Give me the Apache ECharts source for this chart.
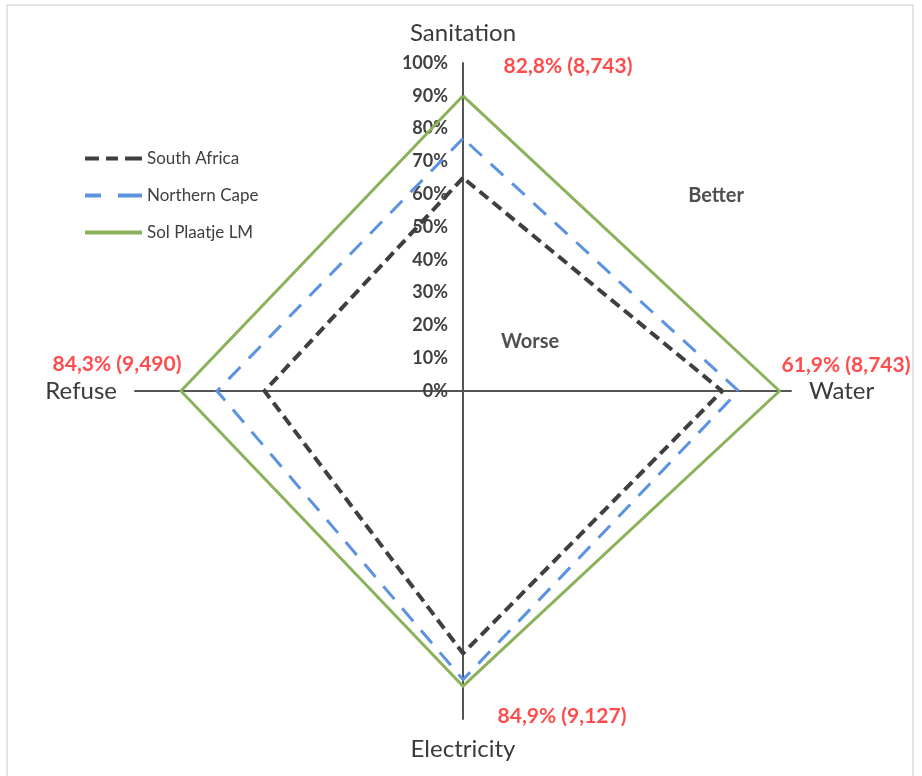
<!DOCTYPE html>
<html>
<head>
<meta charset="utf-8">
<script src="https://cdn.jsdelivr.net/npm/echarts@6/dist/echarts.min.js"></script>
<style>
  html, body { margin: 0; padding: 0; background: #fff; }
  #chart { width: 922px; height: 776px; }
</style>
</head>
<body>
<div id="chart"></div>
<script>
// Service access indicators (percent of households)
const indicatorNames = ['Sanitation', 'Refuse', 'Electricity', 'Water'];
const axisMax = 100;
const southAfrica = [65, 60.5, 80, 79];
const northernCape = [77, 75, 88, 84];
const solPlaatje = [90, 86, 90, 96.5];
const seriesNames = ['South Africa', 'Northern Cape', 'Sol Plaatje LM'];

// Local municipality annotations per service
const notes = {
  sanitation: '82,8% (8,743)',
  water: '61,9% (8,743)',
  electricity: '84,9% (9,127)',
  refuse: '84,3% (9,490)'
};

const FONT = 'Lato, "Liberation Sans", sans-serif';
const TEXT = '#404040';
const RED = '#FF4D4D';
const C_SA = '#3f3f3f';
const C_NC = '#5B93E0';
const C_SP = '#8BB25A';

// legend swatches drawn as short line segments (solid or dashed)
const ICON_SA = 'path://M0,0h14v4h-14zM21,0h12v4h-12zM40,0h17v4h-17z';
const ICON_NC = 'path://M0,0h16v4h-16zM33,0h24v4h-24z';
const ICON_SP = 'path://M0,0h57v4h-57z';

const chart = echarts.init(document.getElementById('chart'));

const indicator = indicatorNames.map(function (name, i) {
  const ind = { name: name, min: 0, max: axisMax };
  // percentage scale is printed only along the upper axis
  if (i === 0) {
    ind.axisLabel = {
      show: true,
      formatter: '{value}%',
      color: TEXT,
      fontFamily: FONT,
      fontSize: 18,
      fontWeight: 'bold',
      margin: 15
    };
  }
  return ind;
});

chart.setOption({
  backgroundColor: '#ffffff',
  animation: false,
  legend: {
    orient: 'vertical',
    left: 80,
    top: 145,
    itemWidth: 57,
    itemHeight: 4,
    itemGap: 20,
    data: [
      { name: seriesNames[0], icon: ICON_SA },
      { name: seriesNames[1], icon: ICON_NC },
      { name: seriesNames[2], icon: ICON_SP }
    ],
    textStyle: { color: TEXT, fontFamily: FONT, fontSize: 17 }
  },
  radar: {
    center: [463, 391],
    radius: 328,
    startAngle: 90,
    splitNumber: 10,
    shape: 'polygon',
    indicator: indicator,
    axisName: { color: '#3a3a3a', fontFamily: FONT, fontSize: 24 },
    nameGap: 18,
    axisLine: { lineStyle: { color: '#555555', width: 2 } },
    axisTick: { show: false },
    axisLabel: { show: false },
    splitLine: { show: false },
    splitArea: { show: false }
  },
  series: [{
    type: 'radar',
    symbol: 'none',
    data: [
      {
        name: seriesNames[0],
        value: southAfrica,
        lineStyle: { color: C_SA, width: 4, type: [11, 6] },
        itemStyle: { color: C_SA }
      },
      {
        name: seriesNames[1],
        value: northernCape,
        lineStyle: { color: C_NC, width: 3, type: [17, 12] },
        itemStyle: { color: C_NC }
      },
      {
        name: seriesNames[2],
        value: solPlaatje,
        lineStyle: { color: C_SP, width: 3, type: 'solid' },
        itemStyle: { color: C_SP }
      }
    ]
  }],
  graphic: [
    {
      type: 'rect',
      shape: { x: 7, y: 5, width: 906, height: 780 },
      style: { fill: 'none', stroke: '#c8c8c8', lineWidth: 1 },
      silent: true
    },
    {
      type: 'text', x: 568, y: 66,
      style: { text: notes.sanitation, fill: RED, font: 'bold 21px ' + FONT, align: 'center', verticalAlign: 'middle' }
    },
    {
      type: 'text', x: 846, y: 365,
      style: { text: notes.water, fill: RED, font: 'bold 21px ' + FONT, align: 'center', verticalAlign: 'middle' }
    },
    {
      type: 'text', x: 562, y: 716,
      style: { text: notes.electricity, fill: RED, font: 'bold 21px ' + FONT, align: 'center', verticalAlign: 'middle' }
    },
    {
      type: 'text', x: 117, y: 364,
      style: { text: notes.refuse, fill: RED, font: 'bold 21px ' + FONT, align: 'center', verticalAlign: 'middle' }
    },
    {
      type: 'text', x: 716, y: 196,
      style: { text: 'Better', fill: '#505050', font: 'bold 20px ' + FONT, align: 'center', verticalAlign: 'middle' }
    },
    {
      type: 'text', x: 530, y: 342,
      style: { text: 'Worse', fill: '#505050', font: 'bold 20px ' + FONT, align: 'center', verticalAlign: 'middle' }
    }
  ]
});
</script>
</body>
</html>
